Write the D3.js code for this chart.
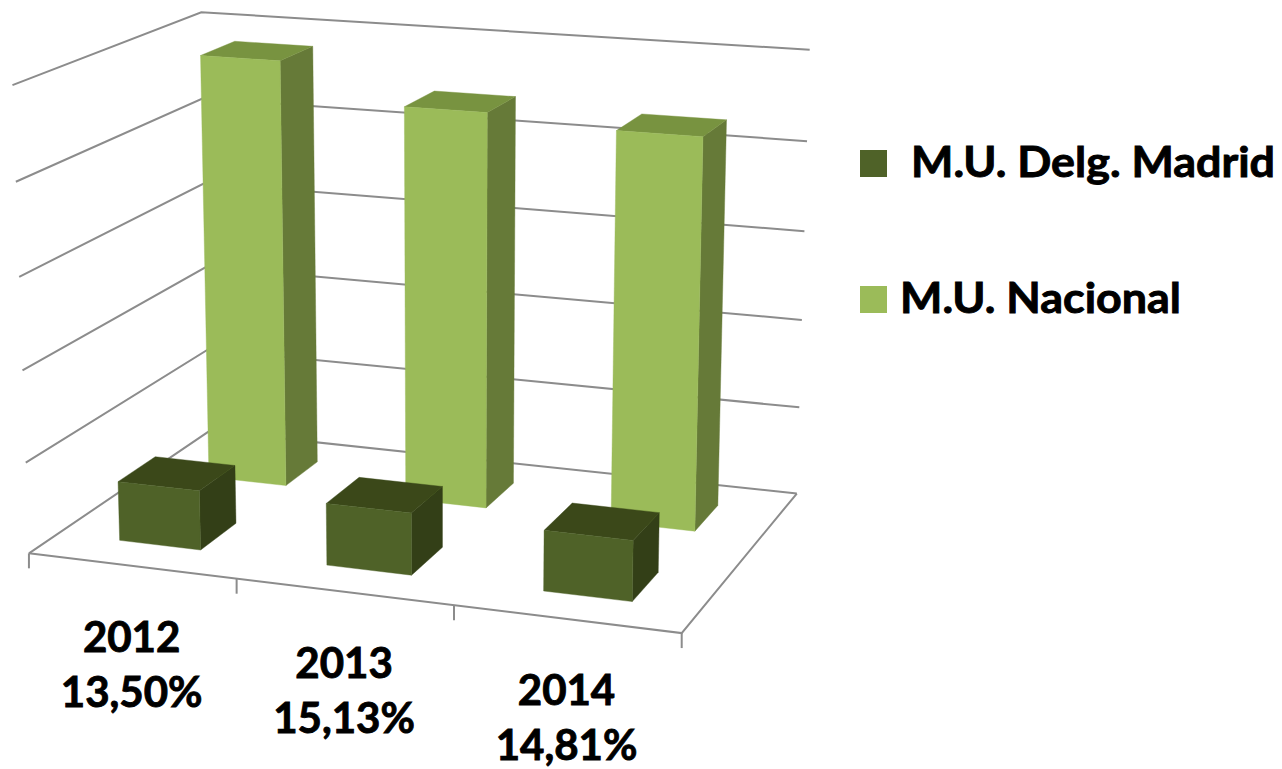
<!DOCTYPE html>
<html>
<head>
<meta charset="utf-8">
<script src="https://cdn.jsdelivr.net/npm/d3@7"></script>
<style>
html,body{margin:0;padding:0;background:#fff;overflow:hidden}
text{font-family:Lato,"Open Sans",sans-serif;font-weight:700;fill:#000;stroke:#000;stroke-width:.9px}
</style>
</head>
<body>
<svg id="chart" width="1282" height="769"></svg>
<script>
const years = ["2012", "2013", "2014"];
const percentLabels = ["13,50%", "15,13%", "14,81%"];
const seriesNames = ["M.U. Delg. Madrid", "M.U. Nacional"];
const madridValues = [13.1, 13.5, 13.0];
const nacionalValues = [96.5, 88.3, 86.4];
const valueTicks = [0, 20, 40, 60, 80, 100];

// Camera calibration: frame corners of the chart box (u across, v up, w into the page) -> screen
const calibration = [
  [0,0,0,30,553],[0,.2,0,26,463],[0,.4,0,21,370],[0,.6,0,19,277],[0,.8,0,17,182],[0,1,0,12,85],
  [0,0,1,209,431],[0,1,1,202,12],
  [1,0,1,796,492],[1,.2,1,800,408],[1,.4,1,803,321],[1,.6,1,805,232],[1,.8,1,806,141],[1,1,1,809,49],
  [1,0,0,682,633],[1/3,0,0,236,579],[2/3,0,0,454,605]
];

function solveCamera(pts){
  const A = [], b = [];
  pts.forEach(([X,Y,Z,x,y])=>{
    x/=1000; y/=1000;
    A.push([X,Y,Z,1,0,0,0,0,-x*X,-x*Y,-x*Z]); b.push(x);
    A.push([0,0,0,0,X,Y,Z,1,-y*X,-y*Y,-y*Z]); b.push(y);
  });
  const n = 11;
  const M = d3.range(n).map(i=>d3.range(n+1).map(j=>{
    let s=0; A.forEach((r,k)=>{ s+= r[i]*(j<n? r[j]: b[k]); }); return s;
  }));
  for(let c=0;c<n;c++){
    let piv=c; for(let r=c+1;r<n;r++) if(Math.abs(M[r][c])>Math.abs(M[piv][c])) piv=r;
    [M[c],M[piv]]=[M[piv],M[c]];
    for(let r=0;r<n;r++){ if(r===c) continue; const f=M[r][c]/M[c][c]; for(let j=c;j<=n;j++) M[r][j]-=f*M[c][j]; }
  }
  return M.map((r,i)=>r[n]/r[i]);
}
const P = solveCamera(calibration);
function project(u,v,w){
  const d = P[8]*u+P[9]*v+P[10]*w+1;
  return [1000*(P[0]*u+P[1]*v+P[2]*w+P[3])/d, 1000*(P[4]*u+P[5]*v+P[6]*w+P[7])/d];
}

const xBand = d3.scaleBand().domain(years).range([0,1]).paddingInner(.604).paddingOuter(.302);
const zBand = d3.scaleBand().domain(seriesNames).range([0,1]).paddingInner(.6).paddingOuter(.3);
const yScale = d3.scaleLinear().domain([0,100]).range([0,1]);
const xEdge = d3.scaleLinear().domain([0,years.length]).range([0,1]);

const svg = d3.select("#chart");
const line = d3.line();
const gridColor = "#8c8c8c";

const grid = svg.append("g").attr("fill","none").attr("stroke",gridColor).attr("stroke-width",2);
grid.selectAll("path.g").data(valueTicks).join("path")
  .attr("d",t=>line([project(0,yScale(t),0),project(0,yScale(t),1),project(1,yScale(t),1)]));
grid.append("path").attr("d",line([project(0,0,0),project(1,0,0),project(1,0,1)]));
grid.selectAll("path.t").data(d3.range(years.length+1)).join("path")
  .attr("d",i=>{const p=project(xEdge(i),0,0);return line([p,[p[0],p[1]+15]]);});

function drawBars(name, values, colors){
  const g = svg.append("g");
  years.forEach((yr,i)=>{
    const u0=xBand(yr),u1=u0+xBand.bandwidth(),w0=zBand(name),w1=w0+zBand.bandwidth(),v=yScale(values[i]);
    const face=(pts,c)=>g.append("path").attr("d",line(pts)+"Z").attr("fill",c).attr("stroke",c).attr("stroke-width",.4);
    face([project(u1,0,w0),project(u1,0,w1),project(u1,v,w1),project(u1,v,w0)],colors.side);
    face([project(u0,v,w0),project(u1,v,w0),project(u1,v,w1),project(u0,v,w1)],colors.top);
    face([project(u0,0,w0),project(u1,0,w0),project(u1,v,w0),project(u0,v,w0)],colors.front);
  });
}
drawBars(seriesNames[1],nacionalValues,{front:"#9BBB59",side:"#667A38",top:"#789340"});
drawBars(seriesNames[0],madridValues,{front:"#4F6228",side:"#333F17",top:"#3B4819"});

const labelSize = 42;
years.forEach((yr,i)=>{
  const p = project(xEdge(i+.5),0,0);
  const t = svg.append("text").attr("text-anchor","middle").attr("font-size",labelSize);
  t.append("tspan").attr("x",p[0]).attr("y",p[1]+86).text(yr);
  t.append("tspan").attr("x",p[0]).attr("y",p[1]+141).text(percentLabels[i]);
});

const legend = [
  {name:seriesNames[0],color:"#4F6228",sq:[860,150],tx:[911,177],len:364},
  {name:seriesNames[1],color:"#9BBB59",sq:[860,286],tx:[900,313],len:281}
];
legend.forEach(l=>{
  svg.append("rect").attr("x",l.sq[0]).attr("y",l.sq[1]).attr("width",27).attr("height",27).attr("fill",l.color);
  svg.append("text").attr("x",l.tx[0]).attr("y",l.tx[1]).attr("font-size",labelSize)
    .attr("textLength",l.len).attr("lengthAdjust","spacingAndGlyphs").text(l.name);
});
</script>
</body>
</html>
